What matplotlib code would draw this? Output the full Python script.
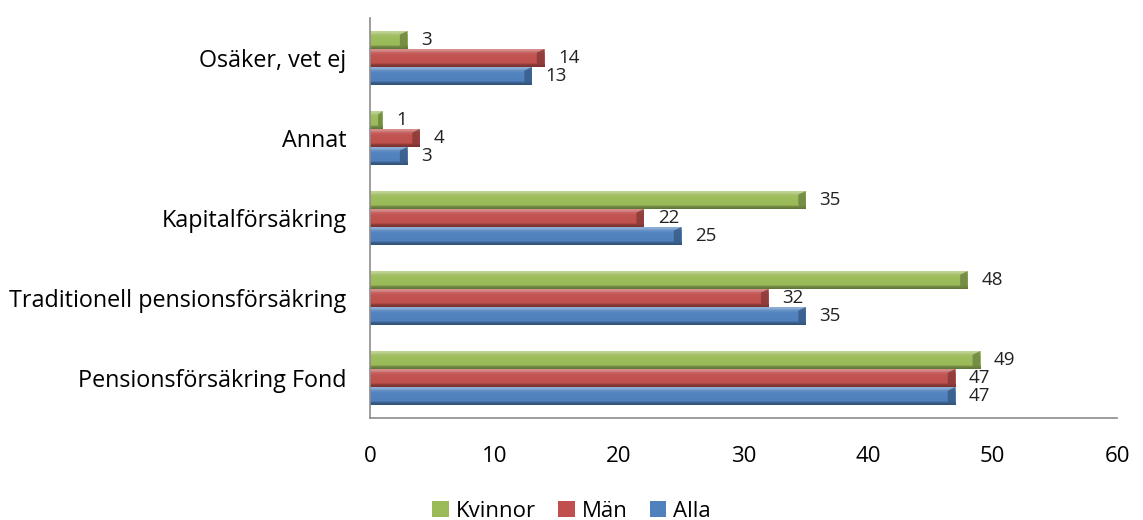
import matplotlib
matplotlib.use("Agg")
import matplotlib.pyplot as plt
import numpy as np
from matplotlib.colors import to_rgb
from matplotlib.patches import Polygon

plt.rcParams["font.family"] = ["Open Sans", "DejaVu Sans"]

categories = ["Pensionsförsäkring Fond", "Traditionell pensionsförsäkring",
              "Kapitalförsäkring", "Annat", "Osäker, vet ej"]
kvinnor = [49, 48, 35, 1, 3]
man = [47, 32, 22, 4, 14]
alla = [47, 35, 25, 3, 13]

series = [("Alla", alla, "#4F81BD"), ("Män", man, "#C0504D"), ("Kvinnor", kvinnor, "#9BBB59")]


def shade(color, f):
    c = np.array(to_rgb(color))
    if f >= 0:
        return tuple(c + (1 - c) * f)
    return tuple(c * (1 + f))


def bevel_bar(ax, rect, color):
    # beveled look: dark bottom lip, light top lip, slanted dark end cap
    x, y, w, h = rect.get_x(), rect.get_y(), rect.get_width(), rect.get_height()
    t = np.linspace(0, 1, 64)
    stops = np.interp(t, [0, 0.14, 0.2, 0.62, 0.78, 0.84, 1.0],
                      [-0.38, -0.25, 0.0, 0.02, 0.12, 0.3, 0.4])
    cols = np.array([shade(color, s) for s in stops])
    im = ax.imshow(cols[:, None, :], extent=(x, x + w, y, y + h), origin="lower",
                   aspect="auto", zorder=2, interpolation="bilinear")
    im.set_clip_path(rect)
    cap = min(0.6, w * 0.35)
    ax.add_patch(Polygon([(x + w - cap, y + h * 0.2), (x + w, y), (x + w, y + h),
                          (x + w - cap, y + h * 0.8)],
                         closed=True, facecolor=shade(color, -0.3), edgecolor="none",
                         zorder=3, alpha=0.8))


fig = plt.figure(figsize=(11.43, 5.2), dpi=100)
ax = fig.add_axes([0.3237, 0.196, 0.6536, 0.7694])

ypos = np.arange(len(categories))
bh = 0.225
offsets = [-bh, 0, bh]
handles = []
for (name, vals, color), off in zip(series, offsets):
    bars = ax.barh(ypos + off, vals, height=bh, color=color, edgecolor="none",
                   zorder=1, label=name)
    handles.append(bars)
    for rect, v in zip(bars, vals):
        bevel_bar(ax, rect, color)
        ax.annotate(str(v), (rect.get_width(), rect.get_y() + rect.get_height() / 2),
                    xytext=(10, 0), textcoords="offset points",
                    ha="left", va="center", fontsize=13.5, color="#222222")

ax.set_xlim(0, 60)
ax.set_ylim(-0.5, len(categories) - 0.5)
ax.set_xticks(np.arange(0, 61, 10))
ax.set_yticks(ypos)
ax.set_yticklabels(categories)
ax.tick_params(axis="x", length=0, pad=20, labelsize=16)
ax.tick_params(axis="y", length=0, pad=17, labelsize=16.8)
for s in ["top", "right"]:
    ax.spines[s].set_visible(False)
for s in ["left", "bottom"]:
    ax.spines[s].set_color("#8C8C8C")
    ax.spines[s].set_linewidth(1.2)

leg = fig.legend(handles[::-1], [s[0] for s in series[::-1]], loc="lower center",
                 bbox_to_anchor=(0.5, -0.042), ncol=3, frameon=False, fontsize=16,
                 handlelength=0.75, handleheight=0.75, handletextpad=0.3, columnspacing=1.0)

fig.savefig("out.png", dpi=100)
